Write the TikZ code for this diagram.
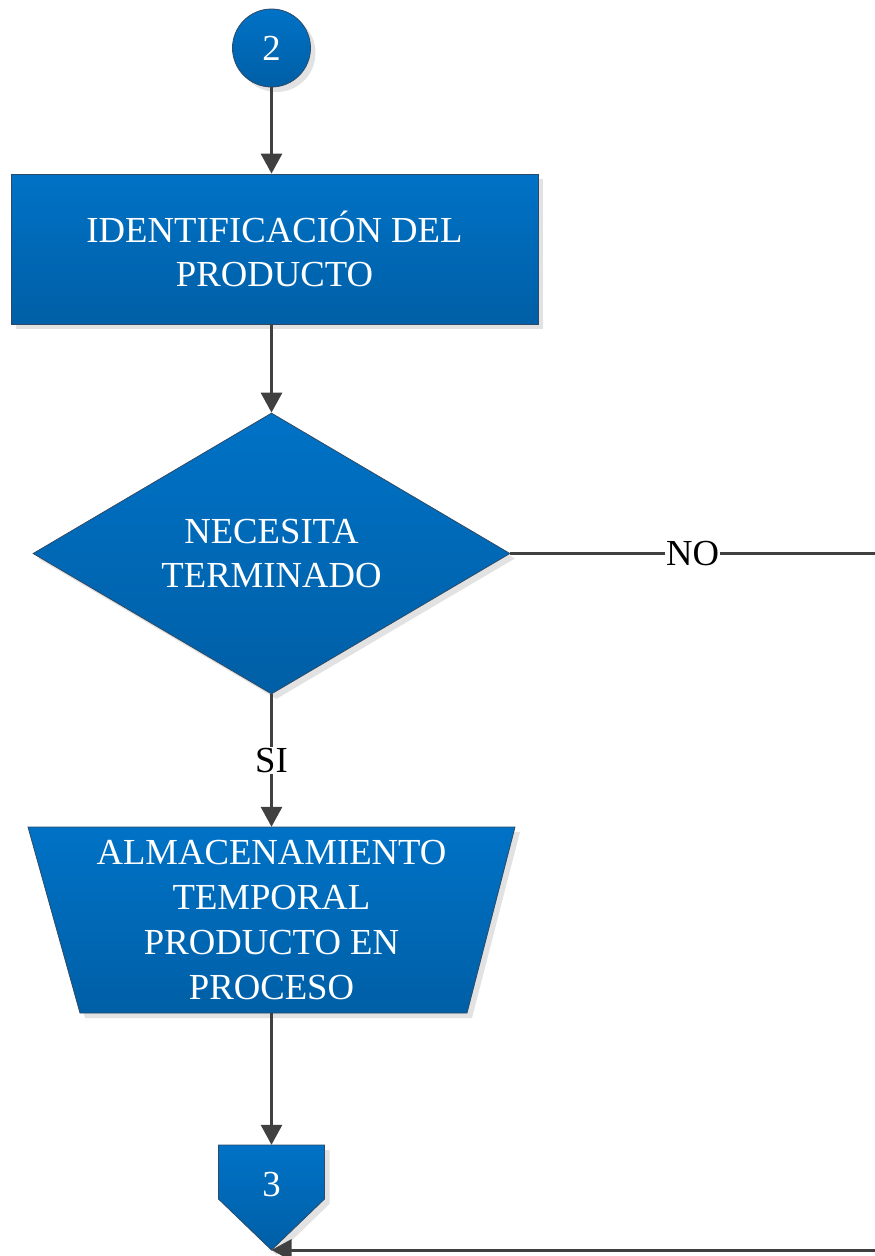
\documentclass[tikz,border=0pt]{standalone}
\usepackage{fontspec}
\setmainfont{Liberation Serif}
\usetikzlibrary{arrows.meta,shapes.geometric,shadows}
\definecolor{btop}{HTML}{0072C6}
\definecolor{bbot}{HTML}{005FA6}
\definecolor{bline}{HTML}{2E4A66}
\definecolor{connc}{HTML}{404040}
\definecolor{shad}{HTML}{E2E2E2}
\begin{document}
\begin{tikzpicture}[x=1pt,y=-1pt,
  shapefill/.style={top color=btop,bottom color=bbot,draw=bline,line width=0.8pt,
    drop shadow={shadow xshift=5pt,shadow yshift=-5pt,fill=shad,opacity=1}},
  txt/.style={text=white,font=\fontsize{36.7}{44}\selectfont,align=center,inner sep=0pt},
  connline/.style={draw=connc,line width=3pt},
  arr/.style={connline,-{Triangle[length=20pt,width=21pt]}},
  lbl/.style={fill=white,text=black,font=\fontsize{36.7}{44}\selectfont,inner sep=1pt}]
\useasboundingbox (0,0) rectangle (875,1256);

% start connector
\node[circle,minimum size=78pt,shapefill,txt] (c2) at (271.5,48) {2};

% process box
\node[rectangle,minimum width=527pt,minimum height=150pt,shapefill,txt] (r1) at (274.5,249)
  {IDENTIFICACIÓN DEL\\PRODUCTO};

% decision
\node[diamond,aspect=1.7,minimum width=477pt,minimum height=281pt,shapefill,txt] (d) at (271.5,553.5)
  {NECESITA\\TERMINADO};

% manual operation (trapezoid)
\path[shapefill] (28,827) -- (515,827) -- (467,1013) -- (80,1013) -- cycle;
\node[rectangle,minimum width=487pt,minimum height=186pt,txt,font=\fontsize{36.7}{45}\selectfont] (t) at (271.5,920)
  {ALMACENAMIENTO\\TEMPORAL\\PRODUCTO EN\\PROCESO};

% off-page connector
\path[shapefill] (218.5,1145) -- (324.5,1145) -- (324.5,1199) -- (271.5,1250) -- (218.5,1199) -- cycle;
\node[rectangle,minimum width=106pt,minimum height=80pt,txt] (p3) at (271.5,1185) {3};
\coordinate (p3tip) at (271.5,1250);

\coordinate (noend) at (875,553.5);
\coordinate (back) at (875,1250);

% connectors
\draw[arr] (c2.south) -- (c2.south |- r1.north);
\draw[arr] (d.north |- r1.south) -- (d.north);
\draw[connline] (d.east) -- node[lbl] {NO} (noend);
\draw[arr] (d.south) -- node[lbl] {SI} (t.north);
\draw[arr] (t.south) -- (p3.north);
\draw[arr] (back) -- (p3tip);
\end{tikzpicture}
\end{document}
